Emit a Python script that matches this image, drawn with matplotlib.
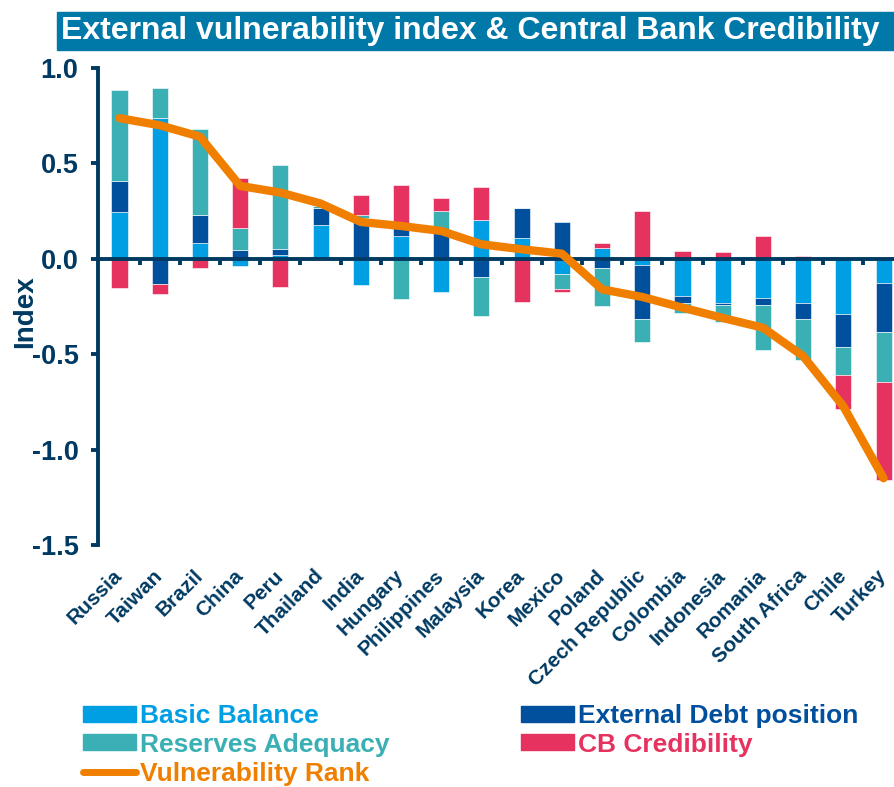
import matplotlib
matplotlib.use("Agg")
import matplotlib.pyplot as plt
from matplotlib.patches import Rectangle, Patch
from matplotlib.lines import Line2D
from matplotlib import font_manager
import numpy as np

countries = ["Russia", "Taiwan", "Brazil", "China", "Peru", "Thailand", "India",
             "Hungary", "Philippines", "Malaysia", "Korea", "Mexico", "Poland",
             "Czech Republic", "Colombia", "Indonesia", "Romania", "South Africa",
             "Chile", "Turkey"]
basic_balance = [0.243, 0.737, 0.085, -0.037, 0.018, 0.176, -0.139, 0.120, -0.174, 0.202,
                 0.111, -0.081, 0.059, -0.034, -0.197, -0.230, -0.206, -0.232, -0.291, -0.125]
external_debt = [0.165, -0.134, 0.145, 0.045, 0.035, 0.090, 0.216, 0.040, 0.140, -0.096,
                 0.154, 0.193, -0.048, -0.284, -0.033, -0.012, -0.038, -0.082, -0.172, -0.261]
reserves = [0.478, 0.158, 0.451, 0.114, 0.437, 0.012, 0.012, -0.209, 0.111, -0.204,
            0.0, -0.076, -0.200, -0.120, -0.053, -0.090, -0.235, -0.217, -0.145, -0.261]
cb_cred = [-0.151, -0.052, -0.046, 0.264, -0.148, 0.0, 0.105, 0.226, 0.066, 0.172,
           -0.227, -0.017, 0.026, 0.248, 0.039, 0.034, 0.120, 0.013, -0.179, -0.510]
vuln_rank = [0.737, 0.700, 0.640, 0.382, 0.347, 0.290, 0.193, 0.172, 0.146, 0.076,
             0.050, 0.027, -0.160, -0.200, -0.256, -0.310, -0.361, -0.510, -0.773, -1.150]

NAVY = "#003A62"
C_BB = "#009FE3"
C_ED = "#00509E"
C_RA = "#3AB0B5"
C_CB = "#E6325F"
C_LINE = "#F07F00"
TITLE_BG = "#0078A8"

names = {f.name for f in font_manager.fontManager.ttflist}
narrow = "Liberation Sans Narrow" if "Liberation Sans Narrow" in names else "Liberation Sans"
plt.rcParams["font.family"] = ["Liberation Sans", "DejaVu Sans"]

W, H = 894, 787
fig = plt.figure(figsize=(W / 100, H / 100), dpi=100)
ax = fig.add_axes([98 / W, (H - 545) / H, (W - 98) / W, (545 - 68) / H])

x = np.arange(len(countries))
series = [(basic_balance, C_BB, "Basic Balance"),
          (external_debt, C_ED, "External Debt position"),
          (reserves, C_RA, "Reserves Adequacy"),
          (cb_cred, C_CB, "CB Credibility")]
pos_base = np.zeros(len(x))
neg_base = np.zeros(len(x))
for vals, col, lab in series:
    v = np.array(vals)
    bottom = np.where(v >= 0, pos_base, neg_base)
    ax.bar(x, v, 0.4, bottom=bottom, color=col, edgecolor="white", linewidth=0.4, zorder=1)
    pos_base = pos_base + np.clip(v, 0, None)
    neg_base = neg_base + np.clip(v, None, 0)

ax.plot(x, vuln_rank, color=C_LINE, lw=6, solid_capstyle="round",
        solid_joinstyle="round", zorder=4)

ax.set_xlim(-0.535, 19.26)
ax.set_ylim(-1.5, 1.0)
ax.set_yticks([-1.5, -1.0, -0.5, 0.0, 0.5, 1.0])
ax.yaxis.set_major_formatter(matplotlib.ticker.FormatStrFormatter("%.1f"))
ax.tick_params(axis="y", length=5, width=2.8, color=NAVY, labelcolor=NAVY,
               labelsize=19.5, pad=9)
for t in ax.get_yticklabels():
    t.set_fontweight("bold")

ax.spines["top"].set_visible(False)
ax.spines["right"].set_visible(False)
ax.spines["left"].set_linewidth(2.8)
ax.spines["left"].set_color(NAVY)
ax.spines["bottom"].set_position(("data", 0))
ax.spines["bottom"].set_linewidth(2.8)
ax.spines["bottom"].set_color(NAVY)
ax.spines["bottom"].set_zorder(3)
ax.set_xticks([])
ax.set_xticks(x[:-1] + 0.5, minor=True)
ax.tick_params(axis="x", which="minor", direction="out", length=4, width=2.8, color=NAVY)

ax.set_ylabel("Index", fontsize=20, fontweight="bold", color=NAVY)
ax.yaxis.set_label_coords(-0.075, 0.49)

secax = ax.secondary_xaxis(0)
secax.spines["bottom"].set_visible(False)
secax.set_xticks(x)
secax.set_xticklabels(countries, fontsize=15, fontweight="bold", color=NAVY)
secax.tick_params(length=0, pad=20)
for t in secax.get_xticklabels():
    t.set_rotation(45)
    t.set_ha("right")
    t.set_va("center")
    t.set_rotation_mode("anchor")

fig.patches.append(Rectangle((57 / W, 1 - 50 / H), (W - 57) / W, 38 / H,
                             transform=fig.transFigure, color=TITLE_BG, zorder=0))
fig.text(470 / W, 1 - 31 / H, "External vulnerability index & Central Bank Credibility",
         ha="center", va="center", color="white", fontsize=23, fontweight="bold",
         family=[narrow, "DejaVu Sans"])

handles = [Patch(color=C_BB), Patch(color=C_RA),
           Line2D([0], [0], color=C_LINE, lw=5, solid_capstyle="round"),
           Patch(color=C_ED), Patch(color=C_CB)]
labels = ["Basic Balance", "Reserves Adequacy", "Vulnerability Rank",
          "External Debt position", "CB Credibility"]
fig.legend(handles, labels, ncol=2, loc="upper left",
           bbox_to_anchor=(83 / W, 1 - 704 / H), frameon=False, borderpad=0,
           borderaxespad=0, handlelength=2.0, handleheight=0.55, handletextpad=0.15,
           labelspacing=0.18, columnspacing=5.0,
           labelcolor=[C_BB, C_RA, C_LINE, C_ED, C_CB],
           prop={"family": [narrow, "DejaVu Sans"], "weight": "bold", "size": 19})

fig.savefig("out.png", dpi=100)
